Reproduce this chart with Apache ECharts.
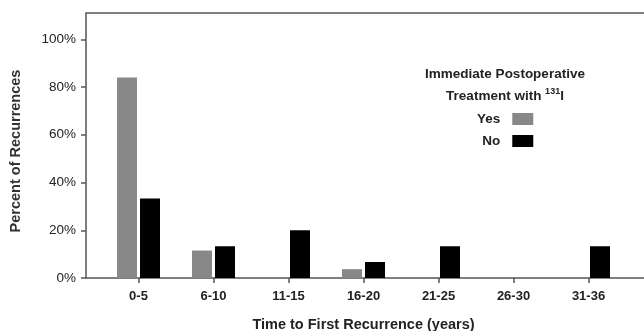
<!DOCTYPE html>
<html>
<head>
<meta charset="utf-8">
<script src="https://cdn.jsdelivr.net/npm/echarts@6/dist/echarts.min.js"></script>
<style>
  html, body { margin: 0; padding: 0; background: #fff; }
  #chart { width: 644px; height: 331px; }
</style>
</head>
<body>
<div id="chart"></div>
<script>
// data
var categories = ['0-5', '6-10', '11-15', '16-20', '21-25', '26-30', '31-36'];
var yesValues = [84, 11.5, 0, 3.7, 0, 0, 0];
var noValues = [33.3, 13.3, 20, 6.7, 13.3, 0, 13.3];
var yTicks = [0, 20, 40, 60, 80, 100];
var seriesNames = ['Yes', 'No'];

var chart = echarts.init(document.getElementById('chart'));
var font = 'Liberation Sans, Arial, sans-serif';

var option = {
  backgroundColor: '#fff',
  animation: false,
  title: {
    text: 'Immediate Postoperative\nTreatment with {sup|131}I',
    left: 500,
    top: 58,
    textAlign: 'center',
    textStyle: {
      fontFamily: font,
      fontSize: 13.5,
      fontWeight: 'bold',
      color: '#222',
      lineHeight: 22,
      rich: {
        sup: { fontFamily: font, fontSize: 9, fontWeight: 'bold', color: '#222', padding: [0, 0, 9, 0] }
      }
    }
  },
  legend: {
    data: seriesNames,
    orient: 'vertical',
    align: 'right',
    icon: 'rect',
    left: 472,
    top: 107,
    itemWidth: 21,
    itemHeight: 12,
    itemGap: 8,
    textStyle: { fontFamily: font, fontSize: 13.5, fontWeight: 'bold', color: '#222', padding: [0, 7, 0, 0] }
  },
  graphic: [{
    type: 'text',
    x: 16,
    y: 151,
    rotation: Math.PI / 2,
    style: {
      text: 'Percent of Recurrences',
      font: 'bold 14.5px ' + font,
      fill: '#333',
      align: 'center',
      verticalAlign: 'middle'
    }
  }],
  grid: [
    // frame
    { left: 86, top: 13, right: -20, bottom: 53, outerBoundsMode: 'none', show: true, borderColor: '#555', borderWidth: 1.5, backgroundColor: 'transparent' },
    // bars
    { left: 101, width: 525, top: 13, bottom: 53, outerBoundsMode: 'none' }
  ],
  xAxis: [
    { gridIndex: 0, type: 'category', data: categories, show: false },
    {
      gridIndex: 1,
      type: 'category',
      data: categories,
      axisLine: { show: false },
      axisTick: { show: true, alignWithLabel: true, length: 5, lineStyle: { color: '#555', width: 1.5 } },
      axisLabel: { margin: 12, fontFamily: font, fontSize: 13, fontWeight: 'bold', color: '#222' },
      name: 'Time to First Recurrence (years)',
      nameLocation: 'middle',
      nameGap: 39,
      nameTextStyle: { fontFamily: font, fontSize: 14.5, fontWeight: 'bold', color: '#222' }
    }
  ],
  yAxis: [
    {
      gridIndex: 0,
      type: 'value',
      min: 0,
      max: 111,
      axisLine: { show: false },
      axisTick: { show: true, length: 5, customValues: yTicks, lineStyle: { color: '#555', width: 1.5 } },
      axisLabel: { margin: 10, customValues: yTicks, formatter: '{value}%', fontFamily: font, fontSize: 13.5, color: '#222' },
      splitLine: { show: false }
    },
    { gridIndex: 1, type: 'value', min: 0, max: 111, show: false, splitLine: { show: false } }
  ],
  series: [
    {
      name: seriesNames[0],
      type: 'bar',
      xAxisIndex: 1,
      yAxisIndex: 1,
      data: yesValues,
      barWidth: 20,
      barGap: '15%',
      itemStyle: { color: '#888' }
    },
    {
      name: seriesNames[1],
      type: 'bar',
      xAxisIndex: 1,
      yAxisIndex: 1,
      data: noValues,
      barWidth: 20,
      itemStyle: { color: '#000' }
    }
  ]
};

chart.setOption(option);
window.addEventListener('resize', function () { chart.resize(); });
</script>
</body>
</html>
